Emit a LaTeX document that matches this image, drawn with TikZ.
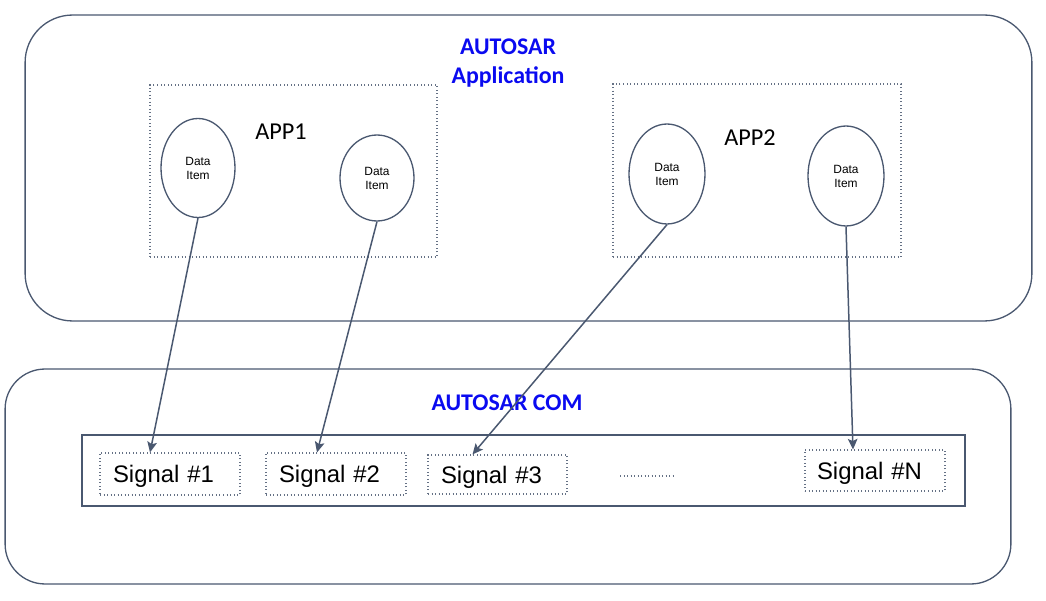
\documentclass[tikz,border=0pt]{standalone}
\usepackage{fontspec}
\setmainfont{Liberation Sans}
\newfontfamily\titlefont{Carlito}
\usetikzlibrary{arrows.meta,shapes.geometric}
\definecolor{edge}{HTML}{4A5870}
\definecolor{titleblue}{HTML}{0A0AF0}
\tikzset{
    layer/.style={draw=edge, line width=0.75pt, rounded corners=0.95cm},
    appbox/.style={draw=edge!85, line width=0.65pt, dash pattern=on 0.55pt off 1.45pt},
    sigbox/.style={draw=edge!85, line width=0.65pt, dash pattern=on 0.55pt off 1.45pt, inner xsep=0.26cm, text width=2.28cm, align=left, minimum height=0.84cm, text height=9.7pt, text depth=0pt, font=\fontsize{13.6}{16}\selectfont},
    dataitem/.style={draw=edge, ellipse, line width=0.75pt, align=center, font=\fontsize{6.8}{8}\selectfont, inner sep=0pt},
    title/.style={text=titleblue, align=center, font=\titlefont\bfseries\fontsize{13.6}{16.2}\selectfont},
    applabel/.style={font=\titlefont\fontsize{13.8}{16}\selectfont},
    flow/.style={draw=edge, line width=0.85pt, -{Stealth[length=6pt,width=5.5pt,inset=1.2pt]}}
}
\begin{document}
\begin{tikzpicture}[x=0.02cm, y=-0.02cm]
                \useasboundingbox (0,0) rectangle (1046,601);
                \node[layer, minimum width=20.14cm, minimum height=6.12cm] (appall) at (528.5,168) {};
                \node[layer, rounded corners=0.8cm, minimum width=20.12cm, minimum height=4.3cm] (com) at (508,476.5) {};
                \node[title] (apptitle) at (508,63) {AUTOSAR\\Application};
                \node[title] (comtitle) at (507,403) {AUTOSAR COM};
                \node[appbox, minimum width=5.74cm, minimum height=3.44cm] (app1) at (293.5,171) {};
                \node[appbox, minimum width=5.76cm, minimum height=3.46cm] (app2) at (757,170.5) {};
                \node[applabel] (app1label) at (281,132) {APP1};
                \node[applabel] (app2label) at (750,138) {APP2};
                \node[dataitem, minimum width=1.48cm, minimum height=1.98cm] (d1) at (198,168) {Data\\Item};
                \node[dataitem, minimum width=1.48cm, minimum height=1.72cm] (d2) at (377,178) {Data\\Item};
                \node[dataitem, minimum width=1.52cm, minimum height=2.0cm] (d3) at (667,174) {Data\\Item};
                \node[dataitem, minimum width=1.52cm, minimum height=2.0cm] (d4) at (846,176) {Data\\Item};
                \node[draw=edge, line width=0.75pt, minimum width=17.66cm, minimum height=1.42cm] (sigframe) at (523.5,470.5) {};
                \node[sigbox] (sig1) at (170,474) {Signal \#1};
                \node[sigbox] (sig2) at (336,474) {Signal \#2};
                \node[sigbox, text width=2.26cm, minimum height=0.78cm] (sig3) at (497.5,474.5) {Signal \#3};
                \node[sigbox, inner xsep=0.24cm, text width=2.32cm, minimum height=0.82cm] (sigN) at (875,470.5) {Signal \#N};
                \draw[edge!85, line width=0.65pt, dash pattern=on 0.55pt off 1.45pt] (620,476) -- (675,476);
                \draw[flow] (d1.south) -- ([xshift=-0.4cm]sig1.north);
                \draw[flow] (d2.south) -- ([xshift=-0.38cm]sig2.north);
                \draw[flow] (d3.south) -- ([xshift=-0.5cm]sig3.north);
                \draw[flow] (d4.south) -- ([xshift=-0.44cm]sigN.north);
            \end{tikzpicture}
\end{document}
